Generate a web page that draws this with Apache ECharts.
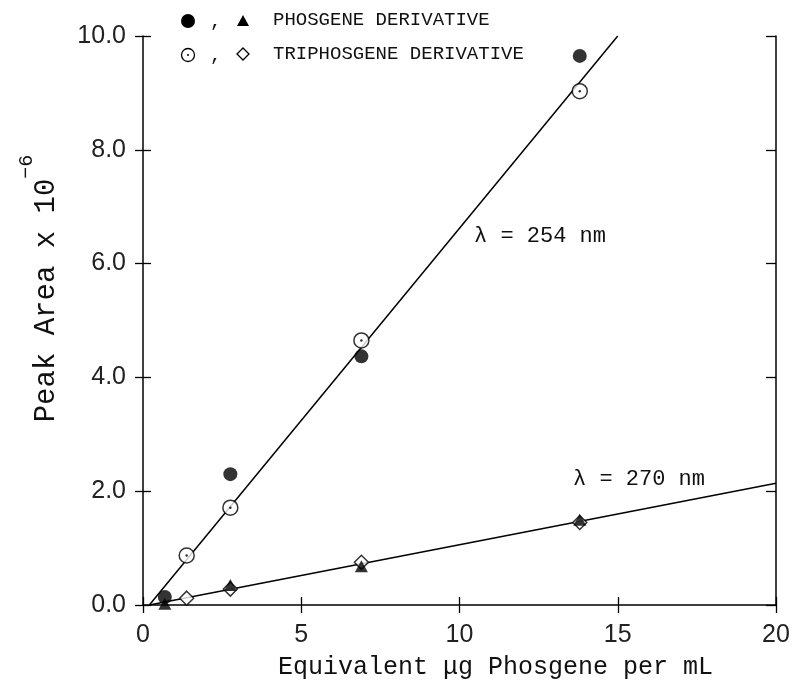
<!DOCTYPE html>
<html>
<head>
<meta charset="utf-8">
<script src="https://cdn.jsdelivr.net/npm/echarts@6/dist/echarts.min.js"></script>
<style>
  html, body { margin: 0; padding: 0; background: #fff; }
  #chart { width: 796px; height: 691px; }
</style>
</head>
<body>
<div id="chart"></div>
<script>
// values
const phosgene254X = [0.69, 2.76, 6.9, 13.8];
const phosgene254Y = [0.14, 2.3, 4.37, 9.65];
const triphosgene254X = [1.38, 2.76, 6.9, 13.8];
const triphosgene254Y = [0.87, 1.71, 4.65, 9.03];
const phosgene270X = [0.69, 2.76, 6.9, 13.8];
const phosgene270Y = [0.02, 0.35, 0.68, 1.5];
const triphosgene270X = [1.38, 2.76, 6.9, 13.8];
const triphosgene270Y = [0.12, 0.28, 0.75, 1.45];
const fit254 = [[0.2, 0], [15.0, 10.0]];
const fit270 = [[0.2, 0], [20, 2.14]];
const xTicks = [0, 5, 10, 15, 20];
const yTicks = [0, 2, 4, 6, 8, 10];

const mono = '"Liberation Mono", "DejaVu Sans Mono", monospace';
const sans = '"Liberation Sans", Arial, sans-serif';

const pairs = (xs, ys) => xs.map((x, i) => [x, ys[i]]);

const chart = echarts.init(document.getElementById('chart'));

const tickStyle = { color: '#000', width: 1.3 };
const hiddenLabel = { show: false };

const option = {
    animation: false,
    backgroundColor: '#fff',
    grid: { left: 143, right: 20, top: 36, bottom: 86 },
    xAxis: [
        {
            type: 'value', min: xTicks[0], max: xTicks[xTicks.length - 1], interval: 5,
            position: 'bottom',
            axisLine: { lineStyle: { color: '#000', width: 1.5 } },
            axisTick: { length: 8, lineStyle: tickStyle },
            splitLine: { show: false },
            axisLabel: { color: '#222', fontFamily: sans, fontSize: 25, margin: 18 },
            name: 'Equivalent \u03bcg Phosgene per mL',
            nameLocation: 'middle', nameGap: 50,
            nameTextStyle: { color: '#111', fontFamily: mono, fontSize: 25, padding: [0, 0, 0, 72] }
        },
        {
            type: 'value', min: 0, max: 20, interval: 5, position: 'bottom',
            axisLine: { show: false },
            axisTick: { inside: true, length: 8, lineStyle: tickStyle },
            splitLine: { show: false }, axisLabel: hiddenLabel
        }
    ],
    yAxis: [
        {
            type: 'value', min: yTicks[0], max: yTicks[yTicks.length - 1], interval: 2,
            position: 'left',
            axisLine: { show: true, lineStyle: { color: '#000', width: 1.5 } },
            axisTick: { show: true, length: 8, lineStyle: tickStyle },
            splitLine: { show: false },
            axisLabel: { color: '#222', fontFamily: sans, fontSize: 25, margin: 17,
                formatter: v => v.toFixed(1) },
            name: '{main|Peak Area x 10}{sup|\u22126}',
            nameLocation: 'middle', nameRotate: 90, nameGap: 82,
            nameTextStyle: {
                color: '#111',
                padding: [0, 0, 0, 64],
                rich: {
                    main: { fontFamily: mono, fontSize: 29, color: '#111', lineHeight: 44, verticalAlign: 'bottom' },
                    sup: { fontFamily: mono, fontSize: 20, color: '#111', lineHeight: 44, verticalAlign: 'top' }
                }
            }
        },
        {
            type: 'value', min: 0, max: 10, interval: 2, position: 'left',
            axisLine: { show: false },
            axisTick: { show: true, inside: true, length: 8, lineStyle: tickStyle },
            splitLine: { show: false }, axisLabel: hiddenLabel
        },
        {
            type: 'value', min: 0, max: 10, interval: 2, position: 'right',
            axisLine: { show: true, lineStyle: { color: '#000', width: 1.5 } },
            axisTick: { show: true, inside: true, length: 10, lineStyle: tickStyle },
            splitLine: { show: false }, axisLabel: hiddenLabel
        }
    ],
    series: [
        {
            name: 'fit254', type: 'line', data: fit254, symbol: 'none',
            lineStyle: { color: '#000', width: 1.5 }, z: 1
        },
        {
            name: 'fit270', type: 'line', data: fit270, symbol: 'none',
            lineStyle: { color: '#000', width: 1.5 }, z: 1
        },
        {
            name: 'PHOSGENE 254', type: 'scatter', data: pairs(phosgene254X, phosgene254Y),
            symbol: 'circle', symbolSize: 14, itemStyle: { color: '#000' }, z: 3
        },
        {
            name: 'TRIPHOSGENE 254', type: 'scatter', data: pairs(triphosgene254X, triphosgene254Y),
            symbol: 'circle', symbolSize: 15,
            itemStyle: { color: '#fff', borderColor: '#000', borderWidth: 1.5 }, z: 3
        },
        {
            name: 'TRIPHOSGENE 254 dot', type: 'scatter', data: pairs(triphosgene254X, triphosgene254Y),
            symbol: 'circle', symbolSize: 2.5, itemStyle: { color: '#000' }, z: 4
        },
        {
            name: 'TRIPHOSGENE 270', type: 'scatter', data: pairs(triphosgene270X, triphosgene270Y),
            symbol: 'diamond', symbolSize: [14, 14],
            itemStyle: { color: '#fff', borderColor: '#000', borderWidth: 1.5 }, z: 3
        },
        {
            name: 'PHOSGENE 270', type: 'scatter', data: pairs(phosgene270X, phosgene270Y),
            symbol: 'triangle', symbolSize: [13, 12], itemStyle: { color: '#000' }, z: 4
        }
    ],
    graphic: [
        // legend
        { type: 'circle', shape: { cx: 188, cy: 21, r: 7 }, style: { fill: '#000' } },
        { type: 'text', x: 210, y: 12, style: { text: ',', font: '19px ' + mono, fill: '#111' } },
        { type: 'polygon', shape: { points: [[243, 15], [249, 26], [237, 26]] }, style: { fill: '#000' } },
        { type: 'text', x: 273, y: 10, style: { text: 'PHOSGENE DERIVATIVE', font: '19px ' + mono, fill: '#111' } },
        { type: 'circle', shape: { cx: 188, cy: 55, r: 6.5 }, style: { fill: '#fff', stroke: '#000', lineWidth: 1.3 } },
        { type: 'circle', shape: { cx: 188, cy: 55, r: 1 }, style: { fill: '#000' } },
        { type: 'text', x: 210, y: 46, style: { text: ',', font: '19px ' + mono, fill: '#111' } },
        { type: 'polygon', shape: { points: [[243, 48], [249, 54], [243, 60], [237, 54]] }, style: { fill: '#fff', stroke: '#000', lineWidth: 1.3 } },
        { type: 'text', x: 273, y: 44, style: { text: 'TRIPHOSGENE DERIVATIVE', font: '19px ' + mono, fill: '#111' } },
        // wavelength labels
        { type: 'text', x: 474, y: 225, style: { text: '\u03bb = 254 nm', font: '22px ' + mono, fill: '#111' } },
        { type: 'text', x: 573, y: 468, style: { text: '\u03bb = 270 nm', font: '22px ' + mono, fill: '#111' } }
    ]
};

chart.setOption(option);
window.addEventListener('resize', () => chart.resize());
</script>
</body>
</html>
